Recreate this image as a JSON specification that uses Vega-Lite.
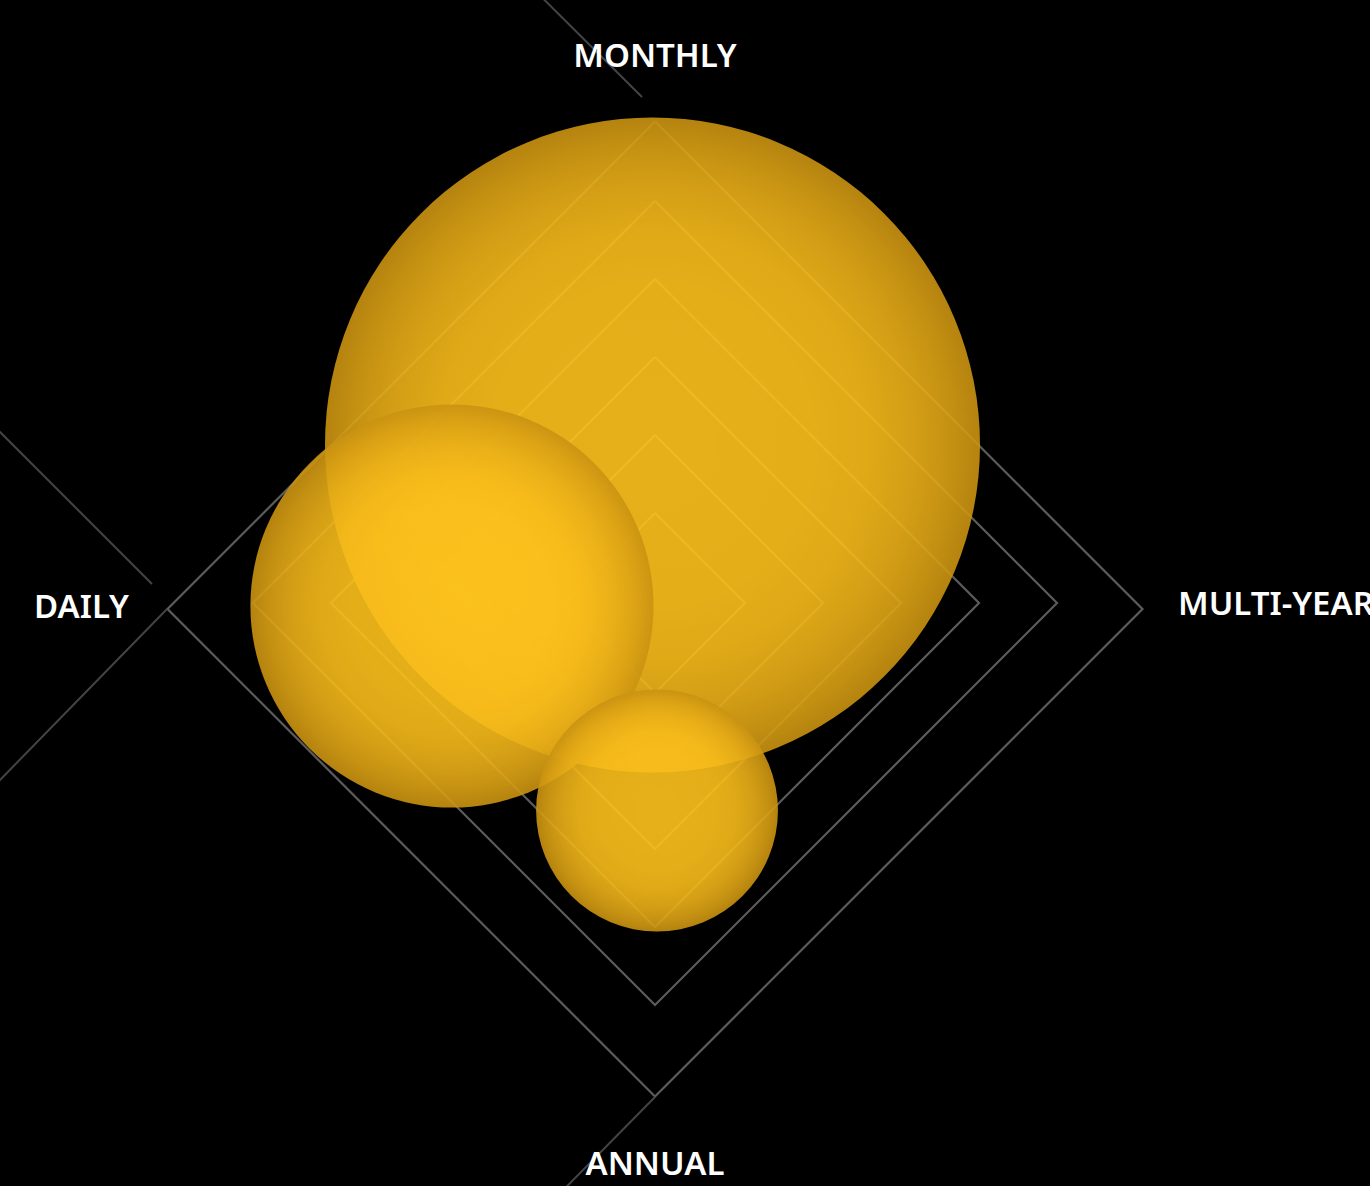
{
  "$schema": "https://vega.github.io/schema/vega-lite/v6.json",
  "width": 1370,
  "height": 1186,
  "padding": 0,
  "autosize": {"type": "none"},
  "background": "#000000",
  "config": {"view": {"stroke": null}},
  "datasets": {
    "rings": [
      {"ring": 1, "o": 0, "x": 0, "y": 1.154}, {"ring": 1, "o": 1, "x": 1.154, "y": 0}, {"ring": 1, "o": 2, "x": 0, "y": -1.154}, {"ring": 1, "o": 3, "x": -1.154, "y": 0}, {"ring": 1, "o": 4, "x": 0, "y": 1.154},
      {"ring": 2, "o": 0, "x": 0, "y": 2.154}, {"ring": 2, "o": 1, "x": 2.154, "y": 0}, {"ring": 2, "o": 2, "x": 0, "y": -2.154}, {"ring": 2, "o": 3, "x": -2.154, "y": 0}, {"ring": 2, "o": 4, "x": 0, "y": 2.154},
      {"ring": 3, "o": 0, "x": 0, "y": 3.154}, {"ring": 3, "o": 1, "x": 3.154, "y": 0}, {"ring": 3, "o": 2, "x": 0, "y": -3.154}, {"ring": 3, "o": 3, "x": -3.154, "y": 0}, {"ring": 3, "o": 4, "x": 0, "y": 3.154},
      {"ring": 4, "o": 0, "x": 0, "y": 4.154}, {"ring": 4, "o": 1, "x": 4.154, "y": 0}, {"ring": 4, "o": 2, "x": 0, "y": -4.154}, {"ring": 4, "o": 3, "x": -4.154, "y": 0}, {"ring": 4, "o": 4, "x": 0, "y": 4.154},
      {"ring": 5, "o": 0, "x": 0, "y": 5.154}, {"ring": 5, "o": 1, "x": 5.154, "y": 0}, {"ring": 5, "o": 2, "x": 0, "y": -5.154}, {"ring": 5, "o": 3, "x": -5.154, "y": 0}, {"ring": 5, "o": 4, "x": 0, "y": 5.154},
      {"ring": 6, "o": 0, "x": 0, "y": 6.173}, {"ring": 6, "o": 1, "x": 6.25, "y": -0.077}, {"ring": 6, "o": 2, "x": 0, "y": -6.327}, {"ring": 6, "o": 3, "x": -6.25, "y": -0.077}, {"ring": 6, "o": 4, "x": 0, "y": 6.173}
    ],
    "segments": [
      {"x": -1.436, "y": 7.75, "x2": -0.167, "y2": 6.487},
      {"x": -8.42, "y": 2.215, "x2": -6.449, "y2": 0.244},
      {"x": -8.42, "y": -2.292, "x2": -6.256, "y2": -0.077},
      {"x": 0, "y": -6.333, "x2": -1.15, "y2": -7.5}
    ],
    "bubbles": [
      {"period": "MONTHLY", "share": 66, "x": -0.032, "y": 2.026},
      {"period": "DAILY", "share": 25, "x": -2.603, "y": -0.038},
      {"period": "ANNUAL", "share": 9, "x": 0.026, "y": -2.66}
    ],
    "labels": [
      {"label": "MONTHLY", "x": 0, "y": 6.872},
      {"label": "DAILY", "x": -7.353, "y": -0.192},
      {"label": "ANNUAL", "x": 0, "y": -7.333}
    ],
    "labelsLeft": [
      {"label": "MULTI-YEAR", "x": 6.705, "y": -0.154}
    ]
  },
  "layer": [
    {
      "data": {"name": "rings"},
      "mark": {"type": "line", "stroke": "#5c5c5c", "strokeWidth": 2.2, "strokeJoin": "miter"},
      "encoding": {
        "x": {"field": "x", "type": "quantitative", "scale": {"domain": [-8.3974, 9.1667], "nice": false, "zero": false}, "axis": null},
        "y": {"field": "y", "type": "quantitative", "scale": {"domain": [-7.4744, 7.7308], "nice": false, "zero": false}, "axis": null},
        "detail": {"field": "ring", "type": "nominal"},
        "order": {"field": "o", "type": "quantitative"}
      }
    },
    {
      "data": {"name": "segments"},
      "mark": {"type": "rule", "stroke": "#444444", "strokeWidth": 2},
      "encoding": {
        "x": {"field": "x", "type": "quantitative"},
        "y": {"field": "y", "type": "quantitative"},
        "x2": {"field": "x2"},
        "y2": {"field": "y2"}
      }
    },
    {
      "data": {"name": "bubbles"},
      "mark": {
        "type": "point",
        "shape": "circle",
        "filled": true,
        "opacity": 0.9,
        "strokeWidth": 0,
        "fill": {
          "gradient": "radial",
          "stops": [
            {"offset": 0, "color": "#FFC41D"},
            {"offset": 0.5, "color": "#FDC11C"},
            {"offset": 0.65, "color": "#F8BC1A"},
            {"offset": 0.8, "color": "#EBB018"},
            {"offset": 0.92, "color": "#D9A014"},
            {"offset": 1, "color": "#C99211"}
          ]
        }
      },
      "encoding": {
        "x": {"field": "x", "type": "quantitative"},
        "y": {"field": "y", "type": "quantitative"},
        "size": {"field": "share", "type": "quantitative", "scale": {"domain": [0, 100], "range": [0, 650038]}, "legend": null}
      }
    },
    {
      "data": {"name": "labels"},
      "mark": {"type": "text", "font": "Noto Sans", "fontSize": 33, "fontWeight": 600, "color": "#ffffff", "align": "center", "baseline": "alphabetic"},
      "encoding": {
        "x": {"field": "x", "type": "quantitative"},
        "y": {"field": "y", "type": "quantitative"},
        "text": {"field": "label"}
      }
    },
    {
      "data": {"name": "labelsLeft"},
      "mark": {"type": "text", "font": "Noto Sans", "fontSize": 33, "fontWeight": 600, "color": "#ffffff", "align": "left", "baseline": "alphabetic"},
      "encoding": {
        "x": {"field": "x", "type": "quantitative"},
        "y": {"field": "y", "type": "quantitative"},
        "text": {"field": "label"}
      }
    }
  ]
}
